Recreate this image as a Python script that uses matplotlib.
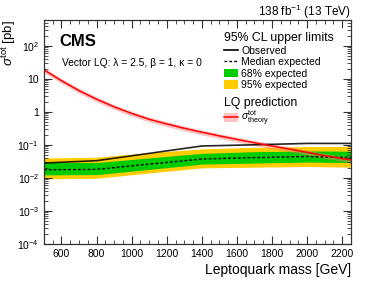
import numpy as np
import matplotlib
matplotlib.use('Agg')
import matplotlib.pyplot as plt
from matplotlib.lines import Line2D
from matplotlib.patches import Patch
from matplotlib.ticker import LogLocator, MultipleLocator, FuncFormatter

plt.rcParams['font.family'] = ['Liberation Sans', 'DejaVu Sans']
plt.rcParams['mathtext.fontset'] = 'custom'
plt.rcParams['mathtext.rm'] = 'Liberation Sans'
plt.rcParams['mathtext.it'] = 'Liberation Sans:italic'
plt.rcParams['mathtext.bf'] = 'Liberation Sans:bold'

# expected / observed limits
mass = [500, 800, 1100, 1400, 1700, 2000, 2250]
obs = [0.028, 0.033, 0.055, 0.092, 0.10, 0.11, 0.11]
exp_med = [0.0175, 0.018, 0.026, 0.037, 0.041, 0.044, 0.041]
exp_1up = [0.029, 0.029, 0.040, 0.055, 0.062, 0.065, 0.064]
exp_1dn = [0.0123, 0.0125, 0.018, 0.026, 0.028, 0.030, 0.029]
exp_2up = [0.040, 0.042, 0.058, 0.075, 0.084, 0.088, 0.090]
exp_2dn = [0.0093, 0.0097, 0.014, 0.020, 0.021, 0.022, 0.021]

# theory prediction
th_mass = [500, 600, 700, 800, 900, 1000, 1100, 1200, 1300, 1400, 1500,
           1600, 1700, 1800, 1900, 2000, 2100, 2200, 2250]
th_xsec = [18.6, 8.7, 4.37, 2.40, 1.41, 0.89, 0.59, 0.427, 0.316, 0.24, 0.186,
           0.146, 0.115, 0.092, 0.074, 0.059, 0.047, 0.038, 0.035]
th_unc = 0.17

green = '#00cc00'
yellow = '#ffcc00'
pink = '#ff7777'

fig = plt.figure(figsize=(3.66, 2.81), dpi=100)
ax = fig.add_axes([0.120, 0.132, 0.839, 0.797])

ax.fill_between(mass, exp_2dn, exp_2up, color=yellow, lw=0)
ax.fill_between(mass, exp_1dn, exp_1up, color=green, lw=0)
ax.plot(mass, exp_med, color='black', ls=(0, (2, 1.5)), lw=1.0)
ax.plot(mass, obs, color='black', lw=1.2, alpha=0.85)

th = np.array(th_xsec)
ax.fill_between(th_mass, th * (1 - th_unc), th * (1 + th_unc), color=pink, alpha=0.45, lw=0)
ax.plot(th_mass, th_xsec, color='red', lw=1.1)

ax.set_yscale('log')
ax.set_xlim(500, 2250)
ax.set_ylim(1e-4, 600)

ax.xaxis.set_major_locator(MultipleLocator(200))
ax.xaxis.set_minor_locator(MultipleLocator(50))
ax.yaxis.set_major_locator(LogLocator(base=10, numticks=20))
ax.yaxis.set_minor_locator(LogLocator(base=10, subs=np.arange(2, 10), numticks=20))

def ylab(v, pos):
    e = int(round(np.log10(v)))
    if e == 0:
        return '1'
    if e == 1:
        return '10'
    return r'$10^{%d}$' % e

ax.yaxis.set_major_formatter(FuncFormatter(ylab))
ax.tick_params(which='both', direction='in', top=True, right=True, labelsize=7.5, color='#333333')
ax.tick_params(which='major', length=6, width=0.8)
ax.tick_params(which='minor', length=3, width=0.6)
ax.tick_params(axis='x', pad=4)
for s in ax.spines.values():
    s.set_linewidth(0.9)
    s.set_color('#333333')

ax.set_xlabel('Leptoquark mass [GeV]', fontsize=10, loc='right')
ax.xaxis.set_label_coords(1.0, -0.085)
ax.set_ylabel(r'$\sigma^{\rm tot}$ [pb]', fontsize=9.5, loc='top')
ax.yaxis.set_label_coords(-0.085, 1.0)

fig.text(0.959, 0.957, r'138 fb$^{-1}$ (13 TeV)', ha='right', va='center', fontsize=8.5)
ax.text(0.05, 0.905, 'CMS', transform=ax.transAxes, fontsize=12, fontweight='bold', va='center')
ax.text(0.058, 0.81, 'Vector LQ: λ = 2.5, β = 1, κ = 0', transform=ax.transAxes,
        fontsize=7.4, va='center')

h1 = [Line2D([], [], color='black', lw=1.2),
      Line2D([], [], color='black', ls=(0, (2, 1.5)), lw=1.0),
      Patch(color=green, lw=0),
      Patch(color=yellow, lw=0)]
l1 = ['Observed', 'Median expected', '68% expected', '95% expected']
leg1 = ax.legend(h1, l1, title='95% CL upper limits', loc='upper left', bbox_to_anchor=(0.562, 0.978),
                 frameon=False, fontsize=7.5, title_fontsize=8.8, alignment='left',
                 handlelength=1.4, handleheight=0.9, handletextpad=0.3, labelspacing=0.14,
                 borderpad=0.4, borderaxespad=0.3)
ax.add_artist(leg1)

h2 = [(Patch(color=pink, alpha=0.45, lw=0), Line2D([], [], color='red', lw=1.1))]
l2 = [r'$\sigma^{\rm tot}_{\rm theory}$']
ax.legend(h2, l2, title='LQ prediction', loc='upper left', bbox_to_anchor=(0.562, 0.690),
          frameon=False, fontsize=7.5, title_fontsize=8.8, alignment='left',
          handlelength=1.4, handleheight=0.9, handletextpad=0.3, labelspacing=0.0,
          borderpad=0.4, borderaxespad=0.3)

fig.savefig('out.png', dpi=100)
